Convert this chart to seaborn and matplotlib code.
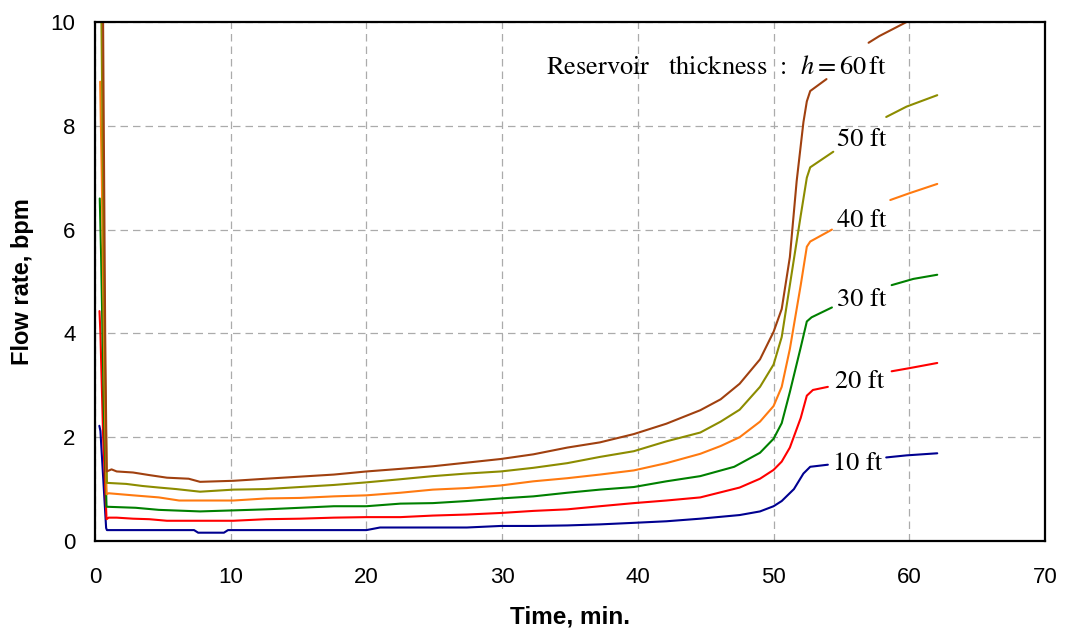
import numpy as np
import pandas as pd
import matplotlib
matplotlib.use("Agg")
import matplotlib.pyplot as plt
import seaborn as sns

# ---------------- data ----------------
# None marks a break in the curve (where the label sits)
t_10ft = [0.32, 0.40, 0.82, 0.88, 2.0, 4.0, 7.3, 7.6, 9.5, 9.8, 12.6, 15.1, 17.6, 20.0, 21.0,
          22.5, 24.9, 27.4, 29.9, 32.3, 34.8, 37.2, 39.7, 42.1, 44.6, 47.5, 49.0, 50.0, 50.6,
          51.5, 52.2, 52.7, 54.0, None, 58.3, 59.8, 62.06]
q_10ft = [2.22, 2.12, 0.25, 0.21, 0.21, 0.21, 0.21, 0.16, 0.16, 0.21, 0.21, 0.21, 0.21, 0.21, 0.26,
          0.26, 0.26, 0.26, 0.29, 0.29, 0.30, 0.32, 0.35, 0.38, 0.43, 0.50, 0.57, 0.67, 0.77,
          1.00, 1.30, 1.43, 1.47, None, 1.61, 1.65, 1.69]

t_20ft = [0.33, 0.40, 0.60, 0.85, 1.0, 1.6, 2.8, 4.0, 5.3, 7.74, 10.2, 12.6, 15.1, 17.6, 20.0,
          22.5, 24.9, 27.4, 29.9, 32.3, 34.8, 37.2, 39.7, 42.1, 44.6, 47.5, 49.0, 50.0, 50.6,
          51.2, 52.0, 52.45, 52.9, 54.0, None, 58.7, 60.0, 62.06]
q_20ft = [4.43, 4.00, 2.00, 0.42, 0.45, 0.45, 0.43, 0.42, 0.39, 0.39, 0.39, 0.42, 0.43, 0.45, 0.46,
          0.46, 0.49, 0.51, 0.54, 0.58, 0.61, 0.67, 0.73, 0.78, 0.84, 1.03, 1.20, 1.37, 1.53,
          1.80, 2.37, 2.80, 2.91, 2.97, None, 3.27, 3.33, 3.43]

t_30ft = [0.35, 0.45, 0.65, 0.85, 3.0, 4.7, 7.74, 10.2, 12.6, 15.1, 17.6, 20.0, 22.5, 24.9,
          27.4, 29.9, 32.3, 34.8, 37.2, 39.7, 42.1, 44.6, 47.1, 49.0, 50.0, 50.6, 51.2, 52.0,
          52.45, 52.8, 54.3, None, 58.7, 60.3, 62.06]
q_30ft = [6.60, 5.50, 2.50, 0.66, 0.64, 0.60, 0.57, 0.59, 0.61, 0.64, 0.67, 0.67, 0.72, 0.73,
          0.77, 0.82, 0.86, 0.93, 0.99, 1.04, 1.15, 1.25, 1.43, 1.70, 1.97, 2.27, 2.87, 3.73,
          4.23, 4.31, 4.50, None, 4.93, 5.05, 5.13]

t_40ft = [0.38, 0.50, 0.70, 0.85, 1.0, 2.8, 4.7, 6.2, 7.74, 10.2, 12.6, 15.1, 17.6, 20.0, 22.5,
          24.9, 27.4, 29.9, 32.3, 34.8, 37.2, 39.7, 42.1, 44.6, 46.1, 47.5, 49.0, 50.0, 50.6,
          51.2, 52.0, 52.45, 52.7, 54.3, None, 58.6, 60.0, 62.06]
q_40ft = [8.85, 7.00, 3.00, 0.90, 0.92, 0.88, 0.84, 0.78, 0.78, 0.78, 0.82, 0.83, 0.86, 0.88, 0.93,
          0.99, 1.02, 1.07, 1.15, 1.21, 1.28, 1.36, 1.50, 1.68, 1.83, 2.00, 2.30, 2.60, 2.97,
          3.70, 4.93, 5.67, 5.77, 6.00, None, 6.57, 6.70, 6.88]

t_50ft = [0.40, 0.55, 0.75, 0.88, 2.3, 3.5, 4.7, 6.0, 7.74, 10.2, 12.6, 15.1, 17.6, 20.0, 22.5,
          24.9, 27.4, 29.9, 32.3, 34.8, 37.2, 39.7, 42.1, 44.6, 46.1, 47.5, 49.0, 50.0, 50.6,
          51.2, 52.0, 52.45, 52.7, 54.4, None, 58.3, 59.8, 62.06]
q_50ft = [12.0, 8.00, 3.00, 1.12, 1.10, 1.06, 1.03, 1.00, 0.95, 0.99, 1.00, 1.04, 1.08, 1.13, 1.19,
          1.25, 1.30, 1.34, 1.41, 1.50, 1.62, 1.73, 1.92, 2.09, 2.30, 2.53, 2.97, 3.40, 3.93,
          4.93, 6.27, 7.00, 7.20, 7.50, None, 8.17, 8.37, 8.59]

t_60ft = [0.50, 0.62, 0.75, 0.86, 1.22, 1.6, 2.8, 4.0, 5.3, 6.9, 7.74, 10.2, 12.6, 15.1, 17.6,
          20.0, 22.5, 24.9, 27.4, 29.9, 32.3, 34.8, 37.2, 39.7, 42.1, 44.6, 46.1, 47.5, 49.0,
          50.0, 50.6, 51.2, 51.7, 52.2, 52.45, 52.7, 53.9, None, 57.0, 57.8, 59.8, 62.06]
q_60ft = [14.0, 9.00, 4.00, 1.34, 1.38, 1.34, 1.32, 1.27, 1.22, 1.20, 1.14, 1.16, 1.20, 1.24, 1.28,
          1.34, 1.39, 1.44, 1.51, 1.58, 1.67, 1.80, 1.90, 2.06, 2.26, 2.52, 2.73, 3.03, 3.50,
          4.03, 4.47, 5.47, 6.93, 8.07, 8.47, 8.67, 8.90, None, 9.60, 9.73, 10.0, 10.4]

series_names = ["10 ft", "20 ft", "30 ft", "40 ft", "50 ft", "60 ft"]
series_colors = ["#000090", "#FF0000", "#008000", "#FF7A10", "#8C8C00", "#A0400F"]
x_ticks = [0, 10, 20, 30, 40, 50, 60, 70]
y_ticks = [0, 2, 4, 6, 8, 10]

# ---------------- build long table ----------------
rows = []
for name, ts, qs in zip(series_names,
                        [t_10ft, t_20ft, t_30ft, t_40ft, t_50ft, t_60ft],
                        [q_10ft, q_20ft, q_30ft, q_40ft, q_50ft, q_60ft]):
    seg = 0
    for ti, qi in zip(ts, qs):
        if ti is None:
            seg += 1
            continue
        rows.append((name, seg, ti, qi))
df = pd.DataFrame(rows, columns=["h", "seg", "t", "q"])

# ---------------- plot ----------------
sns.set_theme(style="white")
plt.rcParams["mathtext.fontset"] = "stix"

fig = plt.figure(figsize=(10.67, 6.34), dpi=100)
ax = fig.add_axes([95 / 1067, 1 - 541 / 634, (1045 - 95) / 1067, (541 - 22) / 634])

ax.grid(True, linestyle=(0, (6, 4)), color="#ababab", linewidth=0.9)
ax.set_axisbelow(True)

sns.lineplot(data=df, x="t", y="q", hue="h", units="seg", estimator=None, sort=False,
             palette=dict(zip(series_names, series_colors)), linewidth=1.5,
             legend=False, ax=ax)

ax.set_xlim(0, 70)
ax.set_ylim(0, 10)
ax.set_xticks(x_ticks)
ax.set_yticks(y_ticks)
tick_font = ["Liberation Sans", "DejaVu Sans"]
ax.set_xticklabels([str(v) for v in x_ticks], family=tick_font, fontsize=16)
ax.set_yticklabels([str(v) for v in y_ticks], family=tick_font, fontsize=16)
ax.tick_params(axis="both", direction="in", length=5, width=1.2, color="black",
               labelcolor="black")
ax.tick_params(axis="x", pad=19)
ax.tick_params(axis="y", pad=14)

for sp in ax.spines.values():
    sp.set_visible(True)
    sp.set_color("black")
    sp.set_linewidth(1.6)

ax.set_xlabel("Time, min.", fontsize=17.5, fontweight="bold",
              family=["Liberation Sans", "DejaVu Sans"], color="black", labelpad=12)
ax.set_ylabel("Flow rate, bpm", fontsize=17, fontweight="bold",
              family=["Liberation Sans", "DejaVu Sans"], color="black", labelpad=12)

serif = ["STIXGeneral", "Liberation Serif", "DejaVu Serif"]
ax.text(58.35, 9.0, r"Reservoir   thickness  :  $h = 60\,$ft", ha="right", va="baseline",
        fontsize=19, family=serif, color="black")
label_pos = {"50 ft": (54.66, 7.62), "40 ft": (54.66, 6.05), "30 ft": (54.66, 4.53),
             "20 ft": (54.5, 2.95), "10 ft": (54.36, 1.37)}
for name, (tx, ty) in label_pos.items():
    ax.text(tx, ty, name, ha="left", va="baseline", fontsize=19, family=serif,
            color="black")

fig.savefig("out.png", dpi=100, facecolor="white")
